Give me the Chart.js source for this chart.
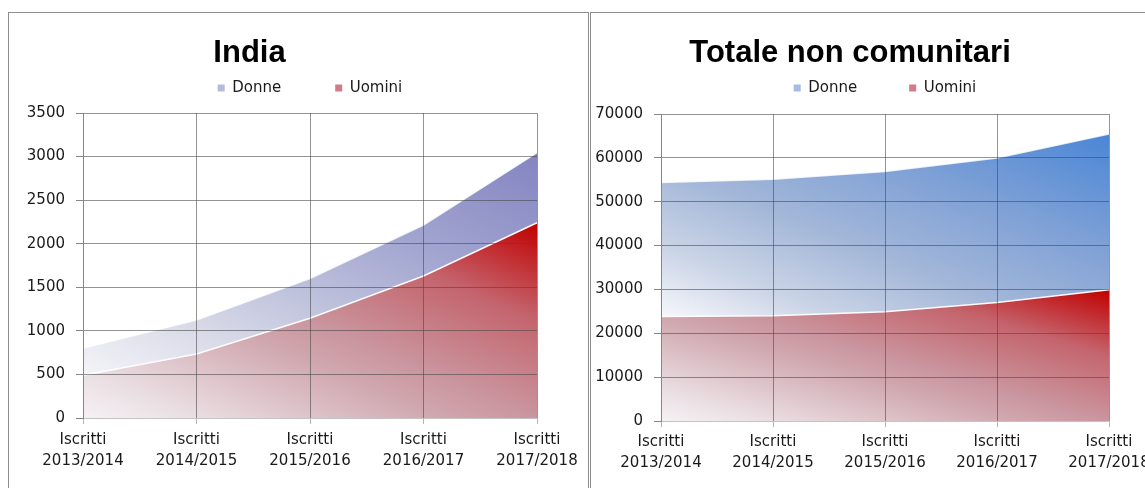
<!DOCTYPE html>
<html>
<head>
<meta charset="utf-8">
<script src="https://cdn.jsdelivr.net/npm/chart.js@4/dist/chart.umd.min.js"></script>
<style>
  body { margin: 0; width: 1145px; height: 488px; overflow: hidden; background: #fff; position: relative; }
  .frame { position: absolute; top: 12px; height: 500px; border: 1px solid #8c8c8c; }
  .box { position: absolute; top: 13px; height: 475px; }
</style>
</head>
<body>
<div class="frame" style="left:8px;width:579px"></div>
<div class="frame" style="left:590px;width:700px"></div>
<div class="box" style="left:-38px;width:626px"><canvas id="chartIndia"></canvas></div>
<div class="box" style="left:591px;width:569px"><canvas id="chartTotale"></canvas></div>

<script>
// Data
const years = ['2013/2014', '2014/2015', '2015/2016', '2016/2017', '2017/2018'];
const categoryPrefix = 'Iscritti';

const indiaUomini = [490, 735, 1145, 1630, 2240];
const indiaDonne = [310, 390, 455, 585, 805];
const indiaTicks = [0, 500, 1000, 1500, 2000, 2500, 3000, 3500];

const totaleUomini = [23800, 24000, 24900, 27000, 29900];
const totaleDonne = [30600, 31150, 32000, 32950, 35550];
const totaleTicks = [0, 10000, 20000, 30000, 40000, 50000, 60000, 70000];

// Styles
const redStops = [[0, '#f5f1f4'], [0.11, '#ebe1e5'], [0.4, '#d0a6ae'], [0.5, '#ca959e'], [0.75, '#c4646d'], [1, '#c00000']];
const lavenderStops = [[0, '#f4f4f8'], [0.23, '#d8dae8'], [0.42, '#bfc2dc'], [0.65, '#a3a6d0'], [1, '#8484c2']];
const blueStops = [[0, '#f6f7fb'], [0.2, '#c9d3e6'], [0.42, '#a2b6d8'], [0.7, '#7c9fd6'], [1, '#4a86d6']];
const gridColor = 'rgba(70,70,70,0.58)';
const textColor = '#1a1a1a';

Chart.defaults.font.family = 'DejaVu Sans';

// diagonal gradient across the bounding box of one stacked band
function diagGradient(chart, lower, upper, stops) {
    const x = chart.scales.x, y = chart.scales.y;
    if (!chart.chartArea || !x || !y) return stops[stops.length - 1][1];
    const left = x.getPixelForValue(0);
    const right = x.getPixelForValue(upper.length - 1);
    const top = y.getPixelForValue(Math.max(...upper));
    const bottom = y.getPixelForValue(Math.min(...lower));
    const w = right - left, h = bottom - top;
    const k = 2 * w * h / (w * w + h * h);
    const g = chart.ctx.createLinearGradient(left, bottom, left + h * k, bottom - w * k);
    stops.forEach(([t, c]) => g.addColorStop(t, c));
    return g;
}

function makeChart(id, title, uomini, donne, yTicks, donneStops, legendColors, lay) {
    const totals = uomini.map((v, i) => v + donne[i]);
    const p = lay.legendGap;
    return new Chart(document.getElementById(id), {
        type: 'line',
        data: {
            labels: years.map(y => [categoryPrefix, y]),
            datasets: [
                {
                    label: 'Uomini',
                    data: uomini,
                    fill: 'origin',
                    backgroundColor: c => diagGradient(c.chart, [0], uomini, redStops),
                    borderColor: 'rgba(255,255,255,0.95)',
                    borderWidth: 1.5
                },
                {
                    label: 'Donne',
                    data: donne,
                    fill: '-1',
                    backgroundColor: c => diagGradient(c.chart, uomini, totals, donneStops),
                    borderColor: 'rgba(255,255,255,0.8)',
                    borderWidth: 1.5
                }
            ]
        },
        options: {
            responsive: true,
            maintainAspectRatio: false,
            animation: false,
            devicePixelRatio: 1,
            layout: { padding: { left: 0, right: lay.padRight, top: 0, bottom: 0 } },
            elements: { point: { radius: 0 }, line: { tension: 0 } },
            plugins: {
                tooltip: { enabled: false },
                title: {
                    display: true,
                    text: title,
                    color: '#000',
                    font: { family: 'Liberation Sans', size: 31, weight: 'bold', lineHeight: 1.2 },
                    padding: { top: 21.5, bottom: 8.8 - p }
                },
                legend: {
                    reverse: true,
                    fullSize: false,
                    labels: {
                        boxWidth: 7,
                        boxHeight: 7,
                        padding: p,
                        color: textColor,
                        font: { size: 15 },
                        generateLabels: chart => Chart.defaults.plugins.legend.labels.generateLabels(chart).map(item => ({
                            ...item,
                            fillStyle: legendColors[item.text],
                            strokeStyle: 'rgba(0,0,0,0)',
                            lineWidth: 0
                        }))
                    }
                },
                // empty spacer between legend and plot
                subtitle: {
                    display: true,
                    text: '',
                    weight: 500,
                    font: { size: 1, lineHeight: 1 },
                    padding: { top: lay.spacer - 1, bottom: 0 }
                }
            },
            scales: {
                x: {
                    grid: { color: gridColor, tickColor: '#b4b4b4', tickLength: 6, z: 1 },
                    border: { color: '#c4c4c4', z: 1 },
                    ticks: {
                        color: textColor,
                        font: { size: 15, lineHeight: 1.4 },
                        padding: lay.xPad,
                        maxRotation: 0,
                        autoSkip: false
                    },
                    afterFit: s => { s.height = lay.xHeight; }
                },
                y: {
                    stacked: true,
                    min: 0,
                    max: yTicks[yTicks.length - 1],
                    afterBuildTicks: s => { s.ticks = yTicks.map(v => ({ value: v })); },
                    grid: {
                        color: c => (c.tick && c.tick.value === 0) ? 'rgba(0,0,0,0)' : gridColor,
                        tickColor: '#868686',
                        tickLength: 7,
                        z: 1
                    },
                    border: { color: '#868686', z: 1 },
                    ticks: { color: textColor, font: { size: 15 }, padding: 11, callback: v => String(v) },
                    afterFit: s => { s.width = lay.yWidth; }
                }
            }
        }
    });
}

makeChart('chartIndia', 'India', indiaUomini, indiaDonne, indiaTicks, lavenderStops,
    { Donne: '#b8bbd9', Uomini: '#d27c88' },
    { yWidth: 121, padRight: 51, xHeight: 70, xPad: 6, legendGap: 54, spacer: 7.5 });

makeChart('chartTotale', 'Totale non comunitari', totaleUomini, totaleDonne, totaleTicks, blueStops,
    { Donne: '#a6bde2', Uomini: '#d27c88' },
    { yWidth: 70, padRight: 51, xHeight: 67, xPad: 5, legendGap: 52, spacer: 8.5 });
</script>
</body>
</html>
